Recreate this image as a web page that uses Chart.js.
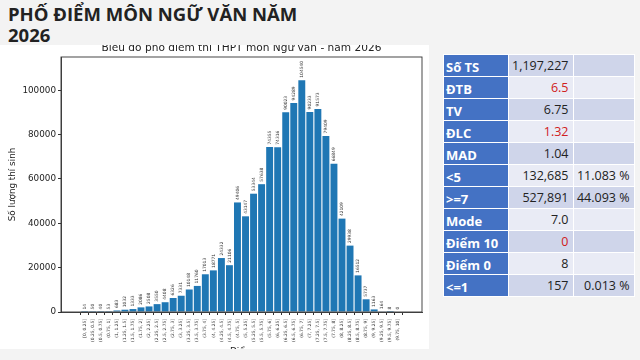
<!DOCTYPE html>
<html>
<head>
<meta charset="utf-8">
<script src="https://cdn.jsdelivr.net/npm/chart.js@4"></script>
<style>
    body {
        margin: 0;
        width: 640px;
        height: 360px;
        background: #f3f3f3;
        position: relative;
        overflow: hidden;
        font-family: "Open Sans", sans-serif;
    }
    h1 {
        position: absolute;
        left: 8px;
        top: 3px;
        width: 310px;
        margin: 0;
        font-size: 18.5px;
        line-height: 21px;
        font-weight: 700;
        color: #222;
    }
    #chartBox {
        position: absolute;
        left: 0;
        top: 45px;
        width: 429px;
        height: 304px;
        background: #fff;
        overflow: hidden;
    }
    #chartBox canvas {
        position: absolute;
        left: 0;
        top: -7px;
    }
    #stats {
        position: absolute;
        left: 443px;
        top: 54px;
        border-collapse: collapse;
    }
    #stats td {
        height: 21px;
        padding: 0 4px 0 3px;
        border: 1px solid #fff;
        font-size: 12.5px;
        color: #222;
        text-align: right;
        white-space: nowrap;
    }
    #stats td.lbl {
        width: 58px;
        background: #4472c4;
        color: #fff;
        font-weight: 700;
        font-size: 13px;
        text-align: left;
        vertical-align: bottom;
        padding-left: 2px;
    }
    #stats td.val { width: 56px; }
    #stats td.pct { width: 53px; }
    #stats tr.dark td.val, #stats tr.dark td.pct { background: #cfd5ea; }
    #stats tr.light td.val, #stats tr.light td.pct { background: #e9ebf5; }
    #stats td.red { color: #d02020; }
</style>
</head>
<body>
<h1>PHỐ ĐIỂM MÔN NGỮ VĂN NĂM 2026</h1>
<div id="chartBox"><canvas id="scoreChart" width="429" height="325"></canvas></div>
<table id="stats"></table>

<script>
// ===== DADOS =====
const binLabels = [
    '[0, 0.25]', '(0.25, 0.5]', '(0.5, 0.75]', '(0.75, 1]',
    '(1, 1.25]', '(1.25, 1.5]', '(1.5, 1.75]', '(1.75, 2]',
    '(2, 2.25]', '(2.25, 2.5]', '(2.5, 2.75]', '(2.75, 3]',
    '(3, 3.25]', '(3.25, 3.5]', '(3.5, 3.75]', '(3.75, 4]',
    '(4, 4.25]', '(4.25, 4.5]', '(4.5, 4.75]', '(4.75, 5]',
    '(5, 5.25]', '(5.25, 5.5]', '(5.5, 5.75]', '(5.75, 6]',
    '(6, 6.25]', '(6.25, 6.5]', '(6.5, 6.75]', '(6.75, 7]',
    '(7, 7.25]', '(7.25, 7.5]', '(7.5, 7.75]', '(7.75, 8]',
    '(8, 8.25]', '(8.25, 8.5]', '(8.5, 8.75]', '(8.75, 9]',
    '(9, 9.25]', '(9.25, 9.5]', '(9.5, 9.75]', '(9.75, 10]'
];
const counts = [
    14, 50, 40, 53, 683, 1032, 1333, 2086, 2508, 3550,
    4408, 6326, 7331, 10148, 11760, 17013, 18771, 24332, 21106, 49406,
    43147, 53344, 57638, 74355, 74316, 90023, 94289, 104540, 90233, 91573,
    79409, 66849, 42109, 29938, 16512, 5737, 1163, 164, 8, 0
];
const yTicks = [0, 20000, 40000, 60000, 80000, 100000];

const statLabels = ['Số TS', 'ĐTB', 'TV', 'ĐLC', 'MAD', '<5', '>=7', 'Mode', 'Điểm 10', 'Điểm 0', '<=1'];
const statValues = ['1,197,227', '6.5', '6.75', '1.32', '1.04', '132,685', '527,891', '7.0', '0', '8', '157'];
const statPercents = ['', '', '', '', '', '11.083 %', '44.093 %', '', '', '', '0.013 %'];
const redRows = [1, 3, 8];

const chartTitle = 'Biểu đồ phổ điểm thi THPT môn Ngữ văn - năm 2026';
const font = 'DejaVu Sans';

// ===== TABELA =====
function buildTable() {
    let html = '';
    statLabels.forEach((label, i) => {
        const cls = i % 2 === 0 ? 'dark' : 'light';
        const red = redRows.includes(i) ? ' red' : '';
        html += `<tr class="${cls}"><td class="lbl">${label.replace('<', '&lt;').replace('>', '&gt;')}</td>` +
                `<td class="val${red}">${statValues[i]}</td><td class="pct">${statPercents[i]}</td></tr>`;
    });
    document.getElementById('stats').innerHTML = html;
}

// ===== PLUGINS =====
// Moldura, título e rótulos sobre as barras
const decorations = {
    id: 'decorations',
    afterDatasetsDraw(chart) {
        const ctx = chart.ctx;
        const area = chart.chartArea;

        ctx.save();
        ctx.font = `4.4px ${font}`;
        ctx.fillStyle = '#333';
        ctx.textAlign = 'left';
        ctx.textBaseline = 'middle';
        chart.getDatasetMeta(0).data.forEach((bar, i) => {
            ctx.save();
            ctx.translate(bar.x, bar.y - 2.5);
            ctx.rotate(-Math.PI / 2);
            ctx.fillText(String(counts[i]), 0, 0);
            ctx.restore();
        });

        ctx.strokeStyle = '#333';
        ctx.lineWidth = 0.9;
        ctx.strokeRect(area.left, area.top, area.right - area.left, area.bottom - area.top);

        ctx.font = `10.6px ${font}`;
        ctx.fillStyle = '#222';
        ctx.textAlign = 'center';
        ctx.textBaseline = 'alphabetic';
        ctx.fillText(chartTitle, (area.left + area.right) / 2, area.top - 6);
        ctx.restore();
    }
};

// ===== GRÁFICO =====
function initChart() {
    const maxY = Math.max(...counts) * 1.1;
    const first = -0.4 - 0.05 * (counts.length - 0.2);
    const last = counts.length - 0.6 + 0.05 * (counts.length - 0.2);

    new Chart(document.getElementById('scoreChart'), {
        type: 'bar',
        data: {
            datasets: [{
                data: counts.map((v, i) => ({ x: i, y: v })),
                backgroundColor: '#1f77b4',
                borderWidth: 0,
                barPercentage: 0.86,
                categoryPercentage: 1
            }]
        },
        options: {
            responsive: false,
            animation: false,
            devicePixelRatio: 1,
            layout: { padding: { top: 19, right: 7, left: 0, bottom: 0 } },
            plugins: {
                legend: { display: false },
                title: { display: false },
                tooltip: { enabled: false }
            },
            scales: {
                x: {
                    type: 'linear',
                    min: first,
                    max: last,
                    afterFit: scale => { scale.height = 51; },
                    afterBuildTicks: scale => {
                        scale.ticks = binLabels.map((_, i) => ({ value: i }));
                    },
                    grid: { drawOnChartArea: false, drawTicks: true, tickLength: 3, tickColor: '#333' },
                    border: { color: '#333', width: 0.9 },
                    ticks: {
                        autoSkip: false,
                        maxRotation: 90,
                        minRotation: 90,
                        padding: 4,
                        color: '#333',
                        font: { family: font, size: 4.4 },
                        callback: value => binLabels[value] ?? ''
                    },
                    title: {
                        display: true,
                        text: 'Điểm',
                        color: '#222',
                        padding: { bottom: 6 },
                        font: { family: font, size: 8.8 }
                    }
                },
                y: {
                    min: 0,
                    max: maxY,
                    afterFit: scale => { scale.width = 61; },
                    afterBuildTicks: scale => {
                        scale.ticks = yTicks.map(v => ({ value: v }));
                    },
                    grid: { drawOnChartArea: false, drawTicks: true, tickLength: 3, tickColor: '#333' },
                    border: { color: '#333', width: 0.9 },
                    ticks: {
                        padding: 2,
                        color: '#222',
                        font: { family: font, size: 8.8 },
                        callback: value => String(value)
                    },
                    title: {
                        display: true,
                        text: 'Số lượng thí sinh',
                        color: '#222',
                        padding: { top: 7 },
                        font: { family: font, size: 8.8 }
                    }
                }
            }
        },
        plugins: [decorations]
    });
}

document.addEventListener('DOMContentLoaded', function() {
    buildTable();
    initChart();
});
</script>
</body>
</html>
